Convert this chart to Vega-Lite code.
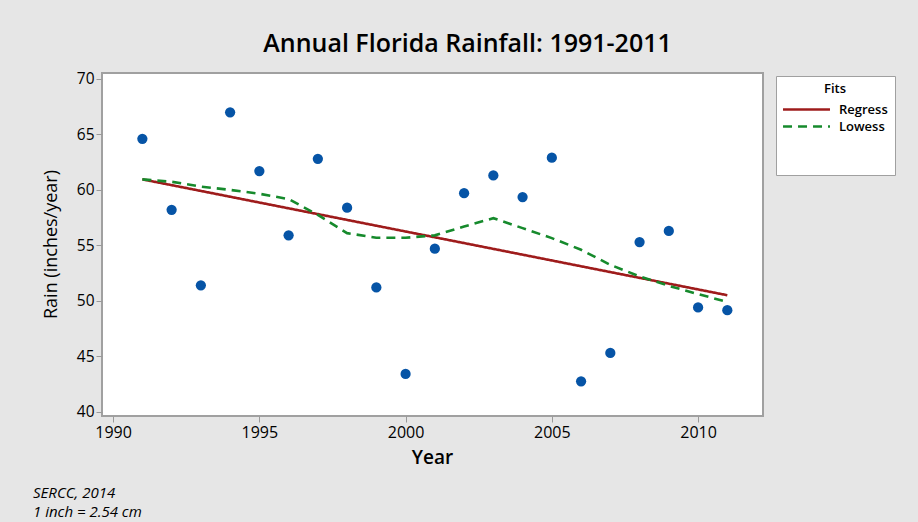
{
  "$schema": "https://vega.github.io/schema/vega-lite/v6.json",
  "width": 661,
  "height": 343,
  "autosize": {"type": "none"},
  "padding": {"left": 102, "top": 73, "right": 155, "bottom": 106},
  "background": "#e6e6e6",
  "title": {
    "text": ["SERCC, 2014", "1 inch = 2.54 cm"],
    "orient": "bottom",
    "anchor": "start",
    "frame": "group",
    "dx": -69,
    "offset": 19,
    "font": "Open Sans",
    "fontSize": 15,
    "fontStyle": "italic",
    "fontWeight": "normal",
    "color": "#000000",
    "lineHeight": 19
  },
  "config": {
    "view": {"stroke": "#a0a0a0", "strokeWidth": 2, "fill": "#ffffff"},
    "font": "Open Sans",
    "axis": {"grid": false, "labelColor": "#000000", "titleColor": "#000000"}
  },
  "datasets": {
    "rain": [
      {"year": 1991, "rain": 64.6},
      {"year": 1992, "rain": 58.2},
      {"year": 1993, "rain": 51.4},
      {"year": 1994, "rain": 67.0},
      {"year": 1995, "rain": 61.7},
      {"year": 1996, "rain": 55.9},
      {"year": 1997, "rain": 62.8},
      {"year": 1998, "rain": 58.4},
      {"year": 1999, "rain": 51.2},
      {"year": 2000, "rain": 43.4},
      {"year": 2001, "rain": 54.7},
      {"year": 2002, "rain": 59.7},
      {"year": 2003, "rain": 61.3},
      {"year": 2004, "rain": 59.35},
      {"year": 2005, "rain": 62.9},
      {"year": 2006, "rain": 42.74},
      {"year": 2007, "rain": 45.3},
      {"year": 2008, "rain": 55.3},
      {"year": 2009, "rain": 56.3},
      {"year": 2010, "rain": 49.4},
      {"year": 2011, "rain": 49.15}
    ],
    "fits": [
      {"year": 1991, "value": 60.95, "fit": "Regress"},
      {"year": 2011, "value": 50.5, "fit": "Regress"},
      {"year": 1991, "value": 60.95, "fit": "Lowess"},
      {"year": 1992, "value": 60.73, "fit": "Lowess"},
      {"year": 1993, "value": 60.3, "fit": "Lowess"},
      {"year": 1994, "value": 60.0, "fit": "Lowess"},
      {"year": 1995, "value": 59.65, "fit": "Lowess"},
      {"year": 1996, "value": 59.17, "fit": "Lowess"},
      {"year": 1997, "value": 57.75, "fit": "Lowess"},
      {"year": 1998, "value": 56.1, "fit": "Lowess"},
      {"year": 1999, "value": 55.68, "fit": "Lowess"},
      {"year": 2000, "value": 55.68, "fit": "Lowess"},
      {"year": 2001, "value": 55.9, "fit": "Lowess"},
      {"year": 2002, "value": 56.7, "fit": "Lowess"},
      {"year": 2003, "value": 57.45, "fit": "Lowess"},
      {"year": 2004, "value": 56.55, "fit": "Lowess"},
      {"year": 2005, "value": 55.65, "fit": "Lowess"},
      {"year": 2006, "value": 54.6, "fit": "Lowess"},
      {"year": 2007, "value": 53.24, "fit": "Lowess"},
      {"year": 2008, "value": 52.2, "fit": "Lowess"},
      {"year": 2009, "value": 51.35, "fit": "Lowess"},
      {"year": 2010, "value": 50.6, "fit": "Lowess"},
      {"year": 2011, "value": 49.9, "fit": "Lowess"}
    ]
  },
  "resolve": {"axis": {"x": "independent"}},
  "layer": [
    {
      "data": {"name": "rain"},
      "mark": {"type": "circle", "size": 105, "color": "#0654a6", "opacity": 1},
      "encoding": {
        "x": {
          "field": "year", "type": "quantitative",
          "scale": {"domain": [1989.62, 2012.22], "nice": false, "zero": false},
          "axis": {
            "orient": "bottom",
            "title": "Year",
            "values": [1990, 1995, 2000, 2005, 2010],
            "format": "d",
            "domain": false,
            "tickColor": "#9a9a9a",
            "tickSize": 6,
            "labelFontSize": 16,
            "labelPadding": 2,
            "titleFontSize": 19,
            "titleFontWeight": 600,
            "titleX": 330,
            "titleY": 41,
            "titleBaseline": "middle"
          }
        },
        "y": {
          "field": "rain", "type": "quantitative",
          "scale": {"domain": [39.61, 70.54], "nice": false, "zero": false},
          "axis": {
            "title": "Rain (inches/year)",
            "values": [40, 45, 50, 55, 60, 65, 70],
            "domain": false,
            "tickColor": "#9a9a9a",
            "tickSize": 6,
            "labelFontSize": 15.5,
            "labelPadding": 2,
            "titleFontSize": 18,
            "titleFontWeight": "normal",
            "titleX": -51,
            "titleY": 171,
            "titleBaseline": "middle"
          }
        }
      }
    },
    {
      "data": {"name": "fits"},
      "mark": {"type": "line", "strokeWidth": 2.6},
      "encoding": {
        "x": {
          "field": "year", "type": "quantitative",
          "scale": {"domain": [1989.62, 2012.22], "nice": false, "zero": false},
          "axis": {
            "orient": "top",
            "title": "Annual Florida Rainfall: 1991-2011",
            "labels": false,
            "ticks": false,
            "domain": false,
            "titleFontSize": 25,
            "titleFontWeight": 600,
            "titleX": 365,
            "titleY": -30,
            "titleBaseline": "middle"
          }
        },
        "y": {"field": "value", "type": "quantitative"},
        "color": {
          "field": "fit", "type": "nominal",
          "scale": {
            "domain": ["Regress", "Lowess", "\u2003", "\u2003\u2003\u2003\u2003\u2003\u2003"],
            "range": ["#9e1b1b", "#168a2c", "rgba(0,0,0,0)", "rgba(0,0,0,0)"]
          },
          "legend": {
            "title": "Fits",
            "orient": "none",
            "legendX": 674,
            "legendY": 3,
            "padding": 7,
            "fillColor": "#ffffff",
            "strokeColor": "#a0a0a0",
            "symbolType": "M-3.5,0L3.5,0",
            "symbolSize": 180,
            "symbolStrokeWidth": 2.6,
            "symbolOffset": 15,
            "labelOffset": 24,
            "labelFontSize": 13,
            "labelFontWeight": 600,
            "labelColor": "#000000",
            "titleFontSize": 13,
            "titleFontWeight": 600,
            "titleColor": "#000000",
            "titleAnchor": "middle",
            "titlePadding": 5,
            "rowPadding": 1
          }
        },
        "strokeDash": {
          "field": "fit", "type": "nominal",
          "scale": {
            "domain": ["Regress", "Lowess", "\u2003", "\u2003\u2003\u2003\u2003\u2003\u2003"],
            "range": [[1, 0], [9, 6], [1, 0], [1, 0]]
          },
          "legend": null
        }
      }
    }
  ]
}
